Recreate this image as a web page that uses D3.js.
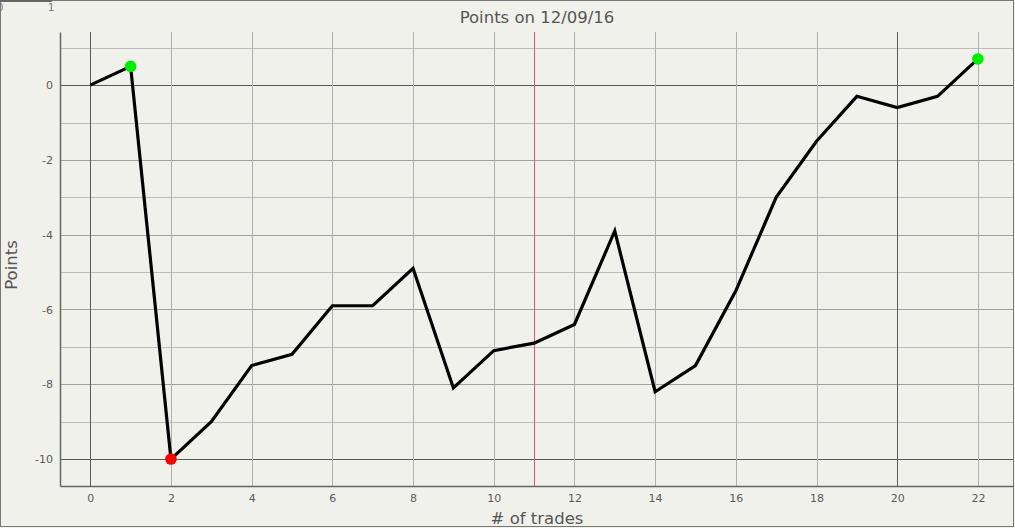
<!DOCTYPE html>
<html><head><meta charset="utf-8">
<script src="https://cdn.jsdelivr.net/npm/d3@7"></script>
<style>
html,body{margin:0;padding:0;background:#f1f1ec;}
svg{display:block;}
text{font-family:"DejaVu Sans",Verdana,sans-serif;}
</style></head><body>
<div id="chart"></div>
<script>
const trades = [0,1,2,3,4,5,6,7,8,9,10,11,12,13,14,15,16,17,18,19,20,21,22];
const points = [0,0.5,-10,-9,-7.5,-7.2,-5.9,-5.9,-4.9,-8.1,-7.1,-6.9,-6.4,-3.9,-8.2,-7.5,-5.5,-3,-1.5,-0.3,-0.6,-0.3,0.7];
const xTicks = [0,2,4,6,8,10,12,14,16,18,20,22];
const yTicks = [0,-2,-4,-6,-8,-10];
const yMinor = [1,-1,-3,-5,-7,-9];
const darkX = [0,20];
const darkY = [0,-10];
const markerLine = 11;
const highs = [1,22];
const lows = [2];
const title = "Points on 12/09/16";
const xLabel = "# of trades";
const yLabel = "Points";

const W = 1015, H = 528;
const L = 60, R = 1013, T = 32, B = 486;
const svg = d3.select("#chart").append("svg").attr("width",W).attr("height",H);
svg.append("rect").attr("width",W).attr("height",H).attr("fill","#f1f1ec");

const x = d3.scaleLinear().domain([-0.75,22.87]).range([L,R]);
const y = d3.scaleLinear().domain([1.42,-10.72]).range([T,B]);

// frame
svg.append("rect").attr("x",0.5).attr("y",0.5).attr("width",W-2).attr("height",H-2)
  .attr("fill","none").attr("stroke","#777").attr("stroke-width",1);
svg.append("line").attr("x1",0).attr("x2",52).attr("y1",1).attr("y2",1).attr("stroke","#666").attr("stroke-width",2);
svg.append("text").attr("x",-3).attr("y",11).attr("font-size",10).attr("fill","#777").text("0");
svg.append("text").attr("x",48).attr("y",11).attr("font-size",10).attr("fill","#777").text("1");

const g = svg.append("g");
yMinor.forEach(v=>g.append("line").attr("x1",L).attr("x2",R).attr("y1",Math.round(y(v))+0.5).attr("y2",Math.round(y(v))+0.5).attr("stroke","#bdbdbd"));
yTicks.forEach(v=>g.append("line").attr("x1",L).attr("x2",R).attr("y1",Math.round(y(v))+0.5).attr("y2",Math.round(y(v))+0.5)
  .attr("stroke", darkY.includes(v)?"#5a5a5a":"#a0a0a0"));
xTicks.forEach(v=>g.append("line").attr("y1",T).attr("y2",B).attr("x1",Math.round(x(v))+0.5).attr("x2",Math.round(x(v))+0.5)
  .attr("stroke", darkX.includes(v)?"#5a5a5a":"#b0b0b0"));
g.append("line").attr("y1",T).attr("y2",B).attr("x1",Math.round(x(markerLine))+0.5).attr("x2",Math.round(x(markerLine))+0.5).attr("stroke","#f0506e");

const fmt = d => String(d);
const xAxis = d3.axisBottom(x).tickValues(xTicks).tickFormat(fmt).tickSize(0).tickPadding(8);
const xa = svg.append("g").attr("transform",`translate(0,${B})`).call(xAxis);
xa.select(".domain").attr("stroke","#666").attr("stroke-width",1.5);
xa.selectAll("text").attr("font-size",11).attr("fill","#5a5a5a").attr("font-family","DejaVu Sans, Verdana, sans-serif");
const yAxis = d3.axisLeft(y).tickValues(yTicks).tickFormat(fmt).tickSize(0).tickPadding(7);
const ya = svg.append("g").attr("transform",`translate(${L},0)`).call(yAxis);
ya.select(".domain").attr("stroke","#666").attr("stroke-width",1.5);
ya.selectAll("text").attr("font-size",11).attr("fill","#5a5a5a").attr("font-family","DejaVu Sans, Verdana, sans-serif");

const data = trades.map((t,i)=>({t,v:points[i]}));
svg.append("path").datum(data).attr("fill","none").attr("stroke","#000").attr("stroke-width",3.2)
  .attr("stroke-linejoin","miter").attr("d",d3.line().x(d=>x(d.t)).y(d=>y(d.v)));

svg.selectAll("circle.hi").data(data.filter(d=>highs.includes(d.t))).join("circle")
  .attr("cx",d=>x(d.t)).attr("cy",d=>y(d.v)).attr("r",5.8).attr("fill","#00ee00");
svg.selectAll("circle.lo").data(data.filter(d=>lows.includes(d.t))).join("circle")
  .attr("cx",d=>x(d.t)).attr("cy",d=>y(d.v)).attr("r",5.8).attr("fill","#ff0000");

svg.append("text").attr("x",537).attr("y",23).attr("text-anchor","middle").attr("font-size",16.5).attr("fill","#555").text(title);
svg.append("text").attr("x",537).attr("y",524).attr("text-anchor","middle").attr("font-size",16.5).attr("fill","#555").text(xLabel);
svg.append("text").attr("transform","translate(17,265) rotate(-90)").attr("text-anchor","middle").attr("font-size",16.5).attr("fill","#555").text(yLabel);
</script></body></html>
